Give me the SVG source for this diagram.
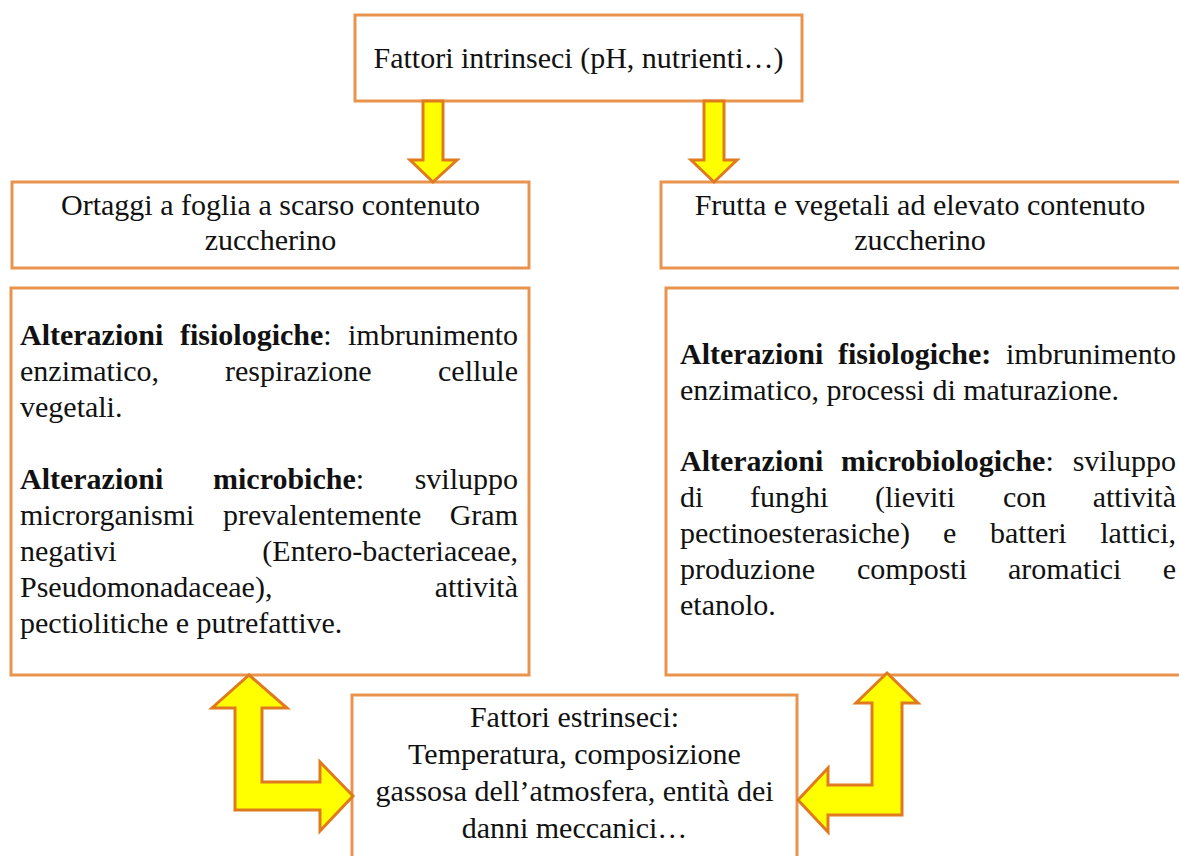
<svg xmlns="http://www.w3.org/2000/svg" width="1179" height="856" viewBox="0 0 1179 856">
<style>
.box{fill:#fff;stroke:#E8944F;stroke-width:3}
.arr{fill:#FFFF00;stroke:#E07A1F;stroke-width:3;stroke-linejoin:miter}
text{font-family:'Liberation Serif','Times New Roman',Times,Tinos,'DejaVu Serif',serif;font-size:30px;fill:#111}
.c{text-anchor:middle}
.e{text-anchor:end}
.b{font-weight:bold}
</style>
<rect width="1179" height="856" fill="#fff"/>
<g id="node-intrinseci">
<rect class="box" x="355" y="15" width="447" height="86"/>
<text class="c" x="578.5" y="68">Fattori intrinseci (pH, nutrienti…)</text>
</g>
<g id="node-ortaggi">
<rect class="box" x="12" y="182" width="517" height="86"/>
<text class="c" x="270.5" y="215">Ortaggi a foglia a scarso contenuto</text>
<text class="c" x="270.5" y="250">zuccherino</text>
</g>
<g id="node-frutta">
<rect class="box" x="661" y="182" width="530" height="86"/>
<text class="c" x="920" y="215">Frutta e vegetali ad elevato contenuto</text>
<text class="c" x="920" y="250">zuccherino</text>
</g>
<g id="node-alterazioni-ortaggi">
<rect class="box" x="11" y="288" width="518" height="387"/>
<text class="b" x="20" y="345">Alterazioni</text>
<text x="180" y="345"><tspan class="b">fisiologiche</tspan>:</text>
<text class="e" x="518" y="345">imbrunimento</text>
<text x="20" y="381">enzimatico,</text>
<text x="225" y="381">respirazione</text>
<text class="e" x="518" y="381">cellule</text>
<text x="20" y="417">vegetali.</text>
<text class="b" x="20" y="489">Alterazioni</text>
<text x="213" y="489"><tspan class="b">microbiche</tspan>:</text>
<text class="e" x="518" y="489">sviluppo</text>
<text x="20" y="525">microrganismi</text>
<text x="223" y="525">prevalentemente</text>
<text class="e" x="518" y="525">Gram</text>
<text x="20" y="561">negativi</text>
<text class="e" x="518" y="561">(Entero-bacteriaceae,</text>
<text x="20" y="597">Pseudomonadaceae),</text>
<text class="e" x="518" y="597">attività</text>
<text x="20" y="633">pectiolitiche e putrefattive.</text>
</g>
<g id="node-alterazioni-frutta">
<rect class="box" x="666" y="288" width="520" height="387"/>
<text class="b" x="680" y="364">Alterazioni</text>
<text class="b" x="838" y="364">fisiologiche:</text>
<text class="e" x="1176" y="364">imbrunimento</text>
<text x="680" y="400">enzimatico, processi di maturazione.</text>
<text class="b" x="680" y="471">Alterazioni</text>
<text x="841" y="471"><tspan class="b">microbiologiche</tspan>:</text>
<text class="e" x="1176" y="471">sviluppo</text>
<text x="680" y="507">di</text>
<text x="750" y="507">funghi</text>
<text x="875" y="507">(lieviti</text>
<text x="1003" y="507">con</text>
<text class="e" x="1176" y="507">attività</text>
<text x="680" y="543">pectinoesterasiche)</text>
<text x="943" y="543">e</text>
<text x="990" y="543">batteri</text>
<text class="e" x="1176" y="543">lattici,</text>
<text x="680" y="579">produzione</text>
<text x="857" y="579">composti</text>
<text x="1008" y="579">aromatici</text>
<text class="e" x="1176" y="579">e</text>
<text x="680" y="615">etanolo.</text>
</g>
<g id="node-estrinseci">
<rect class="box" x="352" y="695" width="445" height="175"/>
<text class="c" x="574.5" y="727">Fattori estrinseci:</text>
<text class="c" x="574.5" y="764">Temperatura, composizione</text>
<text class="c" x="574.5" y="801">gassosa dell’atmosfera, entità dei</text>
<text class="c" x="574.5" y="838">danni meccanici…</text>
</g>
<g id="connectors">
<path class="arr" d="M423,101 L443,101 L443,160 L457,160 L433,182 L410,160 L423,160 Z"/>
<path class="arr" d="M704,101 L724,101 L724,160 L737,160 L714,182 L691,160 L704,160 Z"/>
<path class="arr" d="M249,675 L287,708 L262,708 L262,782 L320,782 L320,762 L353,796 L320,831 L320,810 L235,810 L235,708 L212,708 Z"/>
<path class="arr" d="M887,673 L918,703 L902,703 L902,815 L828,815 L828,832 L798,800 L828,768 L828,785 L872,785 L872,703 L856,703 Z"/>
</g>
</svg>
